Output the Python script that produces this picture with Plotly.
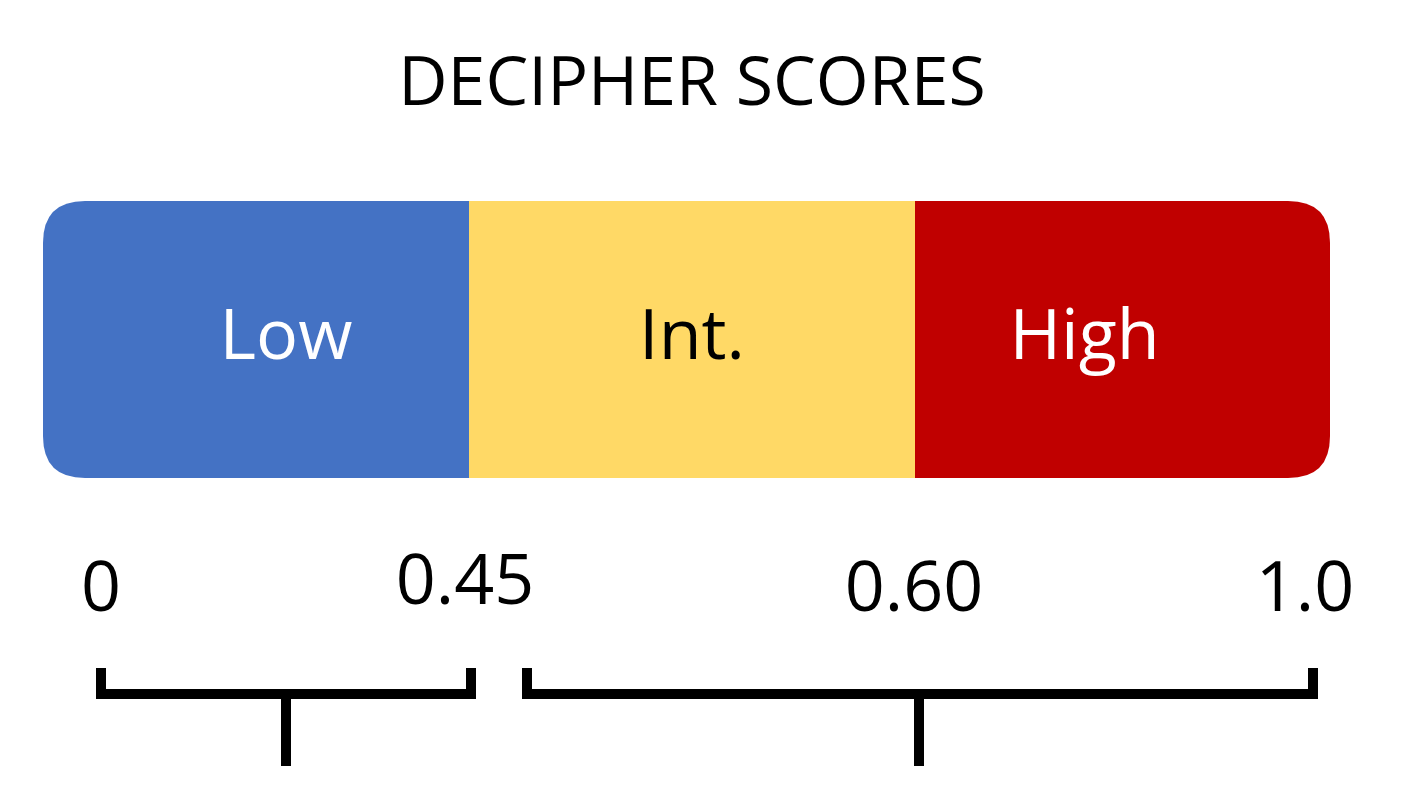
import plotly.graph_objects as go

title = "DECIPHER SCORES"
categories = ["Low", "Int.", "High"]
colors = ["#4472C4", "#FFD966", "#C00000"]
label_colors = ["white", "black", "white"]
seg_edges = [35, 461, 907, 1322]          # layout positions (px) of segment edges
tick_labels = ["0", "0.45", "0.60", "1.0"]
tick_x = [93, 457, 906, 1297]
tick_y = [585, 578, 585, 585]
brackets = [(93, 463, 278), (519, 1305, 911)]

W, H = 1408, 793
top, bot, r = 193, 470, 42
fig = go.Figure()
shapes = []
for i, c in enumerate(colors):
    x0, x1 = seg_edges[i], seg_edges[i + 1]
    if i == 0:
        p = (f"M {x1},{top} L {x0+r},{top} Q {x0},{top} {x0},{top+r} L {x0},{bot-r} "
             f"Q {x0},{bot} {x0+r},{bot} L {x1},{bot} Z")
    elif i == len(colors) - 1:
        p = (f"M {x0},{top} L {x1-r},{top} Q {x1},{top} {x1},{top+r} L {x1},{bot-r} "
             f"Q {x1},{bot} {x1-r},{bot} L {x0},{bot} Z")
    else:
        p = f"M {x0},{top} L {x1},{top} L {x1},{bot} L {x0},{bot} Z"
    shapes.append(dict(type="path", path=p, fillcolor=c, line=dict(width=0), layer="below"))

for a, b, s in brackets:
    p = f"M {a},{660} L {a},{686} L {b},{686} L {b},{660} M {s},{686} L {s},{758}"
    shapes.append(dict(type="path", path=p, line=dict(color="black", width=10)))

font = "Open Sans, Noto Sans, sans-serif"
mids = [(seg_edges[i] + seg_edges[i + 1]) / 2 for i in range(3)]
mids[0] += 30; mids[2] += -38
fig.add_trace(go.Scatter(x=mids, y=[333] * 3, mode="text", text=categories,
                         textfont=dict(size=70, color=label_colors, family=font),
                         hoverinfo="skip"))
fig.add_trace(go.Scatter(x=tick_x, y=tick_y, mode="text", text=tick_labels,
                         textfont=dict(size=70, color="black", family=font),
                         hoverinfo="skip"))
fig.add_trace(go.Scatter(x=[684], y=[80], mode="text", text=[title],
                         textfont=dict(size=68, color="black", family=font),
                         hoverinfo="skip"))

fig.update_layout(width=W, height=H, margin=dict(l=0, r=0, t=0, b=0),
                  paper_bgcolor="white", plot_bgcolor="white", showlegend=False,
                  shapes=shapes,
                  xaxis=dict(range=[0, W], visible=False, fixedrange=True),
                  yaxis=dict(range=[H, 0], visible=False, fixedrange=True))
fig.write_html("out.html")
